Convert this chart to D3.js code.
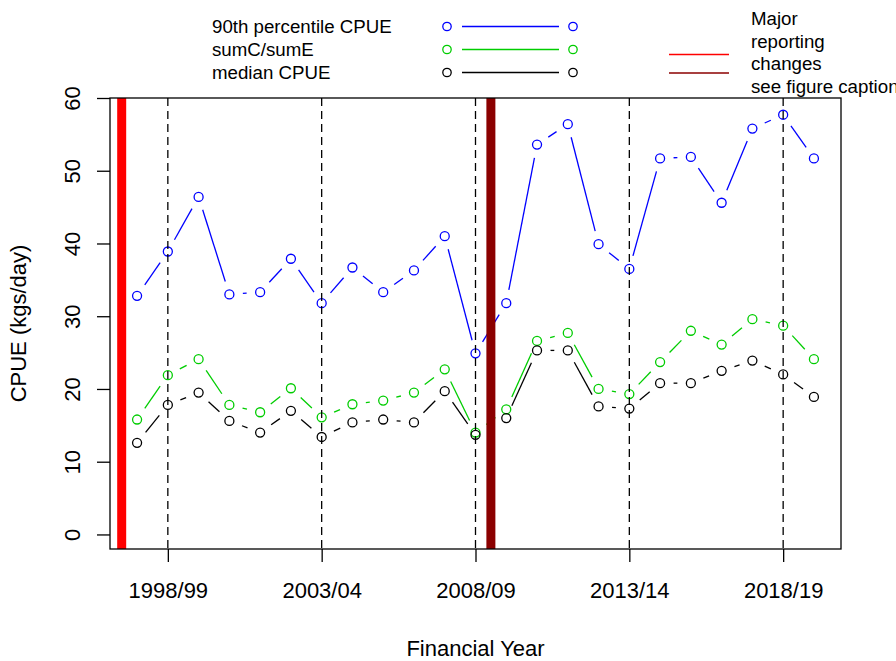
<!DOCTYPE html>
<html>
<head>
<meta charset="utf-8">
<script src="https://cdn.jsdelivr.net/npm/d3@7"></script>
<style>
	body { margin: 0; background: #fff; }
	svg { font-family: 'Liberation Sans', Arial, sans-serif; }
</style>
</head>
<body>
<div id="chart"></div>
<script>
var years = ['1997/98', '1998/99', '1999/00', '2000/01', '2001/02', '2002/03',
	'2003/04', '2004/05', '2005/06', '2006/07', '2007/08', '2008/09', '2009/10',
	'2010/11', '2011/12', '2012/13', '2013/14', '2014/15', '2015/16', '2016/17',
	'2017/18', '2018/19', '2019/20'];
var tickYears = ['1998/99', '2003/04', '2008/09', '2013/14', '2018/19'];
var yTicks = [0, 10, 20, 30, 40, 50, 60];

var p90Cpue = [32.8, 38.9, 46.4, 33.0, 33.3, 37.9, 31.8, 36.7, 33.3, 36.3, 41.0,
	24.9, 31.8, 53.6, 56.4, 39.9, 36.5, 51.7, 51.9, 45.6, 55.8, 57.7, 51.7];
var sumCsumE = [15.8, 21.9, 24.1, 17.8, 16.8, 20.1, 16.1, 17.9, 18.4, 19.5, 22.7,
	14.0, 17.2, 26.6, 27.7, 20.0, 19.3, 23.7, 28.0, 26.1, 29.6, 28.7, 24.1];
var medianCpue = [12.6, 17.8, 19.5, 15.6, 14.0, 17.0, 13.4, 15.4, 15.8, 15.4, 19.7,
	13.7, 16.0, 25.3, 25.3, 17.6, 17.3, 20.8, 20.8, 22.5, 23.9, 22.0, 18.9];

// reporting changes sit between two financial years
var changePositions = [-0.5, 11.5];
var seriesNames = ['90th percentile CPUE', 'sumC/sumE', 'median CPUE'];
var changeText = ['Major', 'reporting', 'changes', 'see figure caption'];

( function () {
	'use strict';

	var width = 896, height = 661;
	var left = 110, right = 841, top = 98, bottom = 549;
	var gap = 13.5;

	var svg = d3.select('#chart')
		.append('svg')
		.attr('width', width)
		.attr('height', height);

	var x = d3.scaleLinear()
		.domain([-0.88, years.length - 1 + 0.88])
		.range([left, right]);
	var y = d3.scaleLinear()
		.domain([-2, 60])
		.range([bottom, top]);

	var series = [
		{ name: seriesNames[0], values: p90Cpue, color: '#0000ff' },
		{ name: seriesNames[1], values: sumCsumE, color: '#00cd00' },
		{ name: seriesNames[2], values: medianCpue, color: '#000000' }
	];

	// type = "b": segments broken around each point
	series.forEach(function (s) {
		var pts = s.values.map(function (v, i) { return [x(i), y(v)]; });
		var g = svg.append('g');
		for (var i = 0; i < pts.length - 1; i++) {
			var dx = pts[i + 1][0] - pts[i][0];
			var dy = pts[i + 1][1] - pts[i][1];
			var len = Math.sqrt(dx * dx + dy * dy);
			if (len <= 2 * gap) continue;
			var ux = dx / len, uy = dy / len;
			g.append('line')
				.attr('x1', pts[i][0] + ux * gap)
				.attr('y1', pts[i][1] + uy * gap)
				.attr('x2', pts[i + 1][0] - ux * gap)
				.attr('y2', pts[i + 1][1] - uy * gap)
				.attr('stroke', s.color)
				.attr('stroke-width', 1.3);
		}
		g.selectAll('circle')
			.data(s.values)
			.enter()
			.append('circle')
			.attr('cx', function (d, i) { return x(i); })
			.attr('cy', function (d) { return y(d); })
			.attr('r', 4.5)
			.attr('fill', 'none')
			.attr('stroke', s.color)
			.attr('stroke-width', 1.3);
	});

	// dashed lines at labelled years
	svg.append('g')
		.selectAll('line')
		.data(tickYears)
		.enter()
		.append('line')
		.attr('x1', function (d) { return x(years.indexOf(d)); })
		.attr('x2', function (d) { return x(years.indexOf(d)); })
		.attr('y1', top)
		.attr('y2', bottom)
		.attr('stroke', '#000')
		.attr('stroke-width', 1.3)
		.attr('stroke-dasharray', '8,5');

	svg.append('g')
		.selectAll('line')
		.data(changePositions)
		.enter()
		.append('line')
		.attr('x1', function (d) { return x(d); })
		.attr('x2', function (d) { return x(d); })
		.attr('y1', top)
		.attr('y2', bottom)
		.attr('stroke', function (d, i) { return i === 0 ? '#ff0000' : '#8b0000'; })
		.attr('stroke-width', 9);

	svg.append('rect')
		.attr('x', left)
		.attr('y', top)
		.attr('width', right - left)
		.attr('height', bottom - top)
		.attr('fill', 'none')
		.attr('stroke', '#000')
		.attr('stroke-width', 1.3);

	// axes
	var xAxis = d3.axisBottom(x)
		.tickValues(tickYears.map(function (d) { return years.indexOf(d); }))
		.tickFormat(function (d) { return years[d]; })
		.tickSize(13)
		.tickPadding(20);
	var gx = svg.append('g')
		.attr('transform', 'translate(0,' + bottom + ')')
		.call(xAxis);
	gx.select('.domain').remove();
	gx.selectAll('line').attr('stroke-width', 1.3);
	gx.selectAll('text')
		.attr('font-size', 22)
		.attr('font-family', null)
		.attr('fill', '#000');

	var yAxis = d3.axisLeft(y)
		.tickValues(yTicks)
		.tickSize(13);
	var gy = svg.append('g')
		.attr('transform', 'translate(' + left + ',0)')
		.call(yAxis);
	gy.select('.domain').remove();
	gy.selectAll('line').attr('stroke-width', 1.3);
	gy.selectAll('text')
		.attr('font-size', 22)
		.attr('font-family', null)
		.attr('fill', '#000')
		.attr('x', null)
		.attr('dy', null)
		.attr('text-anchor', 'middle')
		.attr('transform', 'translate(-38,0) rotate(-90) translate(0,8)');

	svg.append('text')
		.attr('x', (left + right) / 2)
		.attr('y', 656)
		.attr('text-anchor', 'middle')
		.attr('font-size', 22)
		.text('Financial Year');

	svg.append('text')
		.attr('transform', 'translate(26,' + (top + bottom) / 2 + ') rotate(-90)')
		.attr('text-anchor', 'middle')
		.attr('font-size', 22)
		.text('CPUE (kgs/day)');

	// legends above the plot
	var legend = svg.append('g');
	series.forEach(function (s, i) {
		var ly = 26.5 + i * 23;
		legend.append('text')
			.attr('x', 212)
			.attr('y', ly + 6.5)
			.attr('font-size', 18.7)
			.text(s.name);
		legend.append('line')
			.attr('x1', 462)
			.attr('x2', 559)
			.attr('y1', ly)
			.attr('y2', ly)
			.attr('stroke', s.color)
			.attr('stroke-width', 1.3);
		[447, 573].forEach(function (cx) {
			legend.append('circle')
				.attr('cx', cx)
				.attr('cy', ly)
				.attr('r', 4.2)
				.attr('fill', 'none')
				.attr('stroke', s.color)
				.attr('stroke-width', 1.3);
		});
	});

	['#ff0000', '#8b0000'].forEach(function (c, i) {
		legend.append('line')
			.attr('x1', 669)
			.attr('x2', 729)
			.attr('y1', 54.5 + i * 18.5)
			.attr('y2', 54.5 + i * 18.5)
			.attr('stroke', c)
			.attr('stroke-width', 1.3);
	});
	changeText.forEach(function (t, i) {
		legend.append('text')
			.attr('x', 751)
			.attr('y', 25 + i * 22.6)
			.attr('font-size', 18.7)
			.text(t);
	});
}() );
</script>
</body>
</html>
